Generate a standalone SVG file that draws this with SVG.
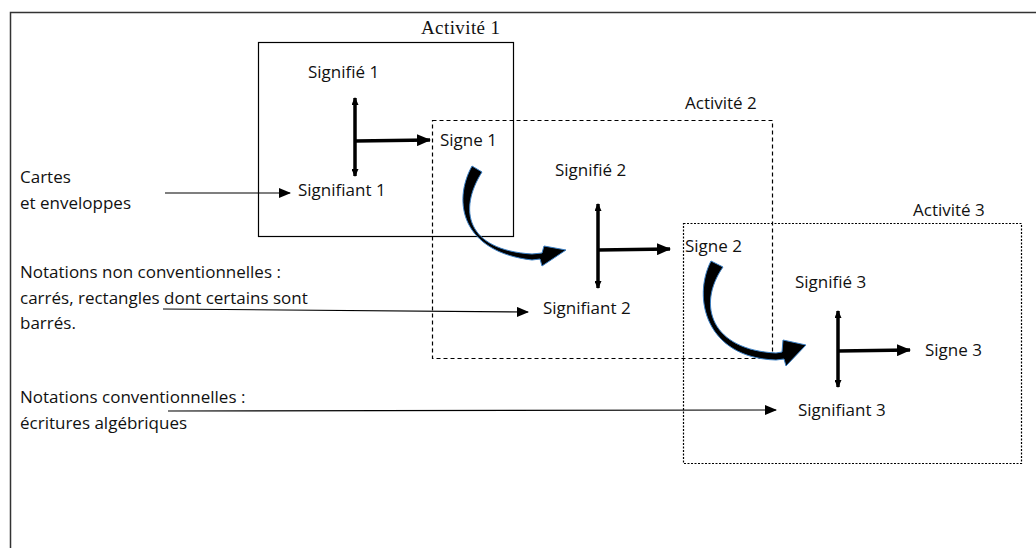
<svg xmlns="http://www.w3.org/2000/svg" width="1036" height="548" viewBox="0 0 1036 548">
<style>
.t{font-family:"Open Sans","Lato","Liberation Sans",sans-serif;font-size:17px;fill:#111;font-variant-ligatures:none}
.h{font-family:"Liberation Serif","Times New Roman",serif;font-size:19px;fill:#111;letter-spacing:0.4px}
.thin{stroke:#000;stroke-width:1.2;fill:none}
.bar{stroke:#000;stroke-width:3.5;fill:none}
.curve{fill:#000;stroke:#3b7fc4;stroke-width:1}
</style>
<defs>
<marker id="ah" markerWidth="12" markerHeight="10" refX="11" refY="5" orient="auto" markerUnits="userSpaceOnUse"><path d="M0,0 L12,5 L0,10 Z" fill="#000"/></marker>
<marker id="ahb" markerWidth="14" markerHeight="12" refX="13" refY="6" orient="auto" markerUnits="userSpaceOnUse"><path d="M0,0 L14,6 L0,12 Z" fill="#000"/></marker>
<marker id="sm" markerWidth="8" markerHeight="7" refX="7" refY="3.5" orient="auto-start-reverse" markerUnits="userSpaceOnUse"><path d="M0,0 L8,3.5 L0,7 Z" fill="#000"/></marker>
</defs>
<rect width="1036" height="548" fill="#fff"/>
<path d="M10.5,548 V12.5 H1036" fill="none" stroke="#333" stroke-width="1.5"/>

<g id="activite1">
<rect x="258.5" y="42.5" width="255" height="194" fill="none" stroke="#000" stroke-width="1.2"/>
<text class="h" x="421" y="34">Activité 1</text>
</g>
<g id="activite2">
<rect x="432.5" y="120.5" width="340" height="238" fill="none" stroke="#000" stroke-width="1.2" stroke-dasharray="4,3"/>
<text class="t" x="685" y="109">Activité 2</text>
</g>
<g id="activite3">
<rect x="683.5" y="223.5" width="338" height="240" fill="none" stroke="#000" stroke-width="1.2" stroke-dasharray="2,1.5"/>
<text class="t" x="913" y="216">Activité 3</text>
</g>

<g id="signifie1"><text class="t" x="308" y="78">Signifié 1</text></g>
<g id="signifiant1"><text class="t" x="298" y="196">Signifiant 1</text></g>
<g id="signe1"><text class="t" x="440" y="146">Signe 1</text></g>
<g id="signifie2"><text class="t" x="555" y="176">Signifié 2</text></g>
<g id="signifiant2"><text class="t" x="543" y="314">Signifiant 2</text></g>
<g id="signe2"><text class="t" x="685" y="252">Signe 2</text></g>
<g id="signifie3"><text class="t" x="795" y="288">Signifié 3</text></g>
<g id="signifiant3"><text class="t" x="798" y="416">Signifiant 3</text></g>
<g id="signe3"><text class="t" x="925" y="356">Signe 3</text></g>

<g id="cartes"><text class="t" x="20" y="183">Cartes</text><text class="t" x="20" y="209">et enveloppes</text></g>
<g id="nonconv"><text class="t" x="20" y="278">Notations non conventionnelles :</text><text class="t" x="20" y="304">carrés, rectangles dont certains sont</text><text class="t" x="20" y="329">barrés.</text></g>
<g id="conv"><text class="t" x="20" y="403">Notations conventionnelles :</text><text class="t" x="20" y="429">écritures algébriques</text></g>

<g id="connectors">
<line class="thin" x1="165" y1="193" x2="290" y2="193" marker-end="url(#ah)"/>
<line class="thin" x1="163" y1="309" x2="528" y2="312" marker-end="url(#ah)"/>
<line class="thin" x1="168" y1="411" x2="776" y2="410" marker-end="url(#ah)"/>

<line class="bar" x1="355" y1="98" x2="355" y2="176" marker-start="url(#sm)" marker-end="url(#sm)"/>
<line class="bar" x1="355" y1="141" x2="430" y2="140" marker-end="url(#ahb)"/>
<line class="bar" x1="598" y1="204" x2="598" y2="288" marker-start="url(#sm)" marker-end="url(#sm)"/>
<line class="bar" x1="598" y1="250" x2="670" y2="249" marker-end="url(#ahb)"/>
<line class="bar" x1="838" y1="311" x2="838" y2="387" marker-start="url(#sm)" marker-end="url(#sm)"/>
<line class="bar" x1="838" y1="351" x2="910" y2="350" marker-end="url(#ahb)"/>

<path class="curve" d="M472,166 C452,202 462,252 532,260 L540,259 L542,266 L566,250 L544,246 L542,253 L532,254 C466,250 458,210 482,172 Z"/>
<path class="curve" d="M711,261 C692,298 706,358 776,360 L784,359 L786,366 L806,345 L783,340 L782,352 L776,353 C712,350 696,306 723,267 Z"/>
</g>
</svg>
